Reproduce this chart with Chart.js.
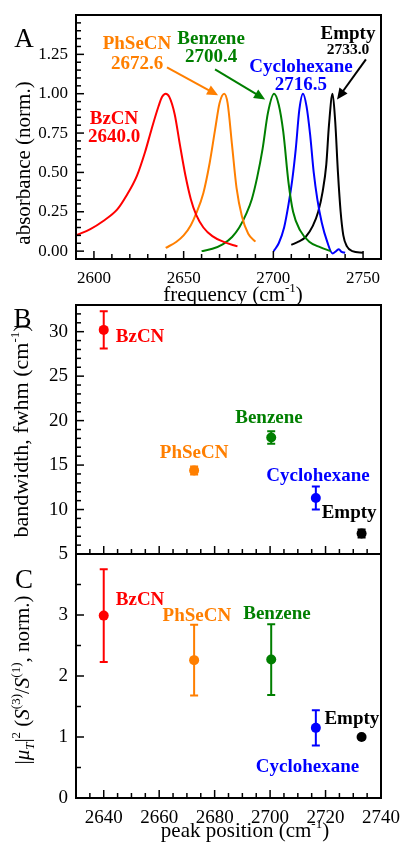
<!DOCTYPE html>
<html>
<head>
<meta charset="utf-8">
<script src="https://cdn.jsdelivr.net/npm/chart.js@4.4.0/dist/chart.umd.min.js"></script>
<style>
  html, body { margin: 0; padding: 0; background: #fff; }
  #wrap { position: relative; width: 403px; height: 853px; }
  .panel { position: absolute; left: 0; width: 403px; }
  canvas { display: block; }
</style>
</head>
<body>
<div id="wrap">
  <div class="panel" style="top:0px"><canvas id="chartA" width="403" height="310"></canvas></div>
  <div class="panel" style="top:295px"><canvas id="chartB" width="403" height="270"></canvas></div>
  <div class="panel" style="top:544px"><canvas id="chartC" width="403" height="309"></canvas></div>
</div>
<script>
// ---- data ----
const solvents = ['BzCN', 'PhSeCN', 'Benzene', 'Cyclohexane', 'Empty'];
const colors = ['#ff0000', '#ff7f00', '#007f00', '#0000ff', '#000000'];
const peakPos = [2640.0, 2672.6, 2700.4, 2716.5, 2733.0];
const fwhm = [30.2, 14.4, 18.1, 11.3, 7.3];
const fwhmErr = [2.1, 0.45, 0.7, 1.3, 0.45];
const ratio = [2.99, 2.26, 2.27, 1.15, 1.0];
const ratioErr = [0.76, 0.58, 0.58, 0.29, 0];

// spectra (panel A)
const bzcnFreq = [2590, 2598, 2605, 2613, 2618, 2624, 2628.5, 2632, 2636, 2638, 2640, 2642, 2645, 2648, 2651, 2654, 2657, 2661, 2666, 2672, 2680];
const bzcnAbs  = [0.10, 0.14, 0.19, 0.265, 0.35, 0.48, 0.63, 0.77, 0.92, 0.98, 1.0, 0.98, 0.87, 0.67, 0.48, 0.33, 0.23, 0.15, 0.095, 0.06, 0.03];
const phsecnFreq = [2640, 2646, 2650, 2654, 2657, 2661, 2664.5, 2667.5, 2670, 2672.6, 2674.5, 2677, 2679.5, 2682.5, 2686, 2690];
const phsecnAbs  = [0.02, 0.06, 0.1, 0.165, 0.24, 0.37, 0.56, 0.77, 0.94, 1.0, 0.94, 0.67, 0.40, 0.22, 0.11, 0.06];
const benzFreq = [2660, 2666, 2672, 2677, 2681, 2685, 2688, 2691, 2694, 2697, 2700.4, 2703, 2705.5, 2708.5, 2711, 2715, 2720, 2726, 2732];
const benzAbs  = [0.0, 0.015, 0.045, 0.09, 0.15, 0.24, 0.33, 0.47, 0.65, 0.88, 1.0, 0.93, 0.76, 0.43, 0.25, 0.13, 0.06, 0.025, 0.0];
const cyhexFreq = [2700.2, 2703, 2706, 2708.5, 2710.5, 2712.5, 2714.5, 2716.5, 2718.5, 2720.5, 2722.5, 2724.5, 2727, 2730, 2733, 2735, 2736.5, 2738, 2740];
const cyhexAbs  = [0.0, 0.05, 0.15, 0.3, 0.45, 0.65, 0.9, 1.0, 0.92, 0.74, 0.5, 0.33, 0.18, 0.06, -0.015, 0.0, 0.012, -0.005, -0.01];
const emptyFreq = [2710, 2714, 2718, 2722, 2725, 2727.5, 2729.5, 2731, 2733, 2734.5, 2736, 2737.5, 2739, 2741, 2744, 2750];
const emptyAbs  = [0.04, 0.06, 0.09, 0.16, 0.25, 0.38, 0.55, 0.8, 1.0, 0.82, 0.5, 0.25, 0.1, 0.03, 0.0, -0.01];

// tick labels
const xTicksA = [2600, 2650, 2700, 2750];
const yTicksA = [0, 0.25, 0.5, 0.75, 1.0, 1.25];
const yTicksB = [5, 10, 15, 20, 25, 30];
const xTicksBC = [2640, 2660, 2680, 2700, 2720, 2740];
const yTicksC = [0, 1, 2, 3];

// ---- helpers ----
const FONT = '"Liberation Serif", "Times New Roman", serif';
const reg = s => `${s}px ${FONT}`;
const ital = s => `italic ${s}px ${FONT}`;
const bold = s => `bold ${s}px ${FONT}`;
const pts = (xs, ys) => xs.map((x, i) => ({ x: x, y: ys[i] }));

function drawRich(ctx, pieces, x, y, rot) {
  ctx.save();
  ctx.translate(x, y);
  ctx.rotate(rot || 0);
  ctx.textBaseline = 'alphabetic';
  ctx.textAlign = 'left';
  ctx.fillStyle = '#000';
  let w = 0;
  pieces.forEach(p => { ctx.font = p.font; w += ctx.measureText(p.t).width; });
  let cx = -w / 2;
  pieces.forEach(p => {
    ctx.font = p.font;
    ctx.fillText(p.t, cx, p.dy || 0);
    cx += ctx.measureText(p.t).width;
  });
  ctx.restore();
}

const framePlugin = {
  id: 'frame',
  afterDraw(chart) {
    const { ctx, chartArea: a } = chart;
    ctx.save();
    ctx.strokeStyle = '#000';
    ctx.lineWidth = 2;
    ctx.strokeRect(a.left, a.top, a.right - a.left, a.bottom - a.top);
    ctx.restore();
  }
};

// ticks pointing into the plot
const innerTicks = {
  id: 'innerTicks',
  afterDraw(chart, args, opts) {
    const { ctx, chartArea: a } = chart;
    ctx.save();
    ctx.strokeStyle = '#000';
    ctx.lineWidth = 1.5;
    (opts.axes || []).forEach(ax => {
      const s = chart.scales[ax.id];
      const n0 = Math.ceil(s.min / ax.minor - 1e-6), n1 = Math.floor(s.max / ax.minor + 1e-6);
      for (let n = n0; n <= n1; n++) {
        const v = n * ax.minor;
        const major = ax.major.some(m => Math.abs(m - v) < 1e-6);
        const len = major ? 8 : 5;
        const p = s.getPixelForValue(v);
        ctx.beginPath();
        if (s.isHorizontal()) {
          if (p <= a.left + 1 || p >= a.right - 1) continue;
          ctx.moveTo(p, a.bottom); ctx.lineTo(p, a.bottom - len);
        } else {
          if (p <= a.top + 1 || p >= a.bottom - 1) continue;
          ctx.moveTo(a.left, p); ctx.lineTo(a.left + len, p);
        }
        ctx.stroke();
      }
    });
    ctx.restore();
  }
};

const errorBars = {
  id: 'errorBars',
  beforeDatasetsDraw(chart) {
    const { ctx } = chart;
    const ys = chart.scales.y;
    chart.data.datasets.forEach((ds, i) => {
      if (!ds.errors) return;
      const meta = chart.getDatasetMeta(i);
      ds.data.forEach((pt, j) => {
        const e = ds.errors[j];
        if (!e) return;
        const x = meta.data[j].x;
        const yTop = ys.getPixelForValue(pt.y + e), yBot = ys.getPixelForValue(pt.y - e);
        ctx.save();
        ctx.strokeStyle = ds.pointBackgroundColor[j];
        ctx.lineWidth = 2;
        ctx.beginPath();
        ctx.moveTo(x, yTop); ctx.lineTo(x, yBot);
        ctx.moveTo(x - 4, yTop); ctx.lineTo(x + 4, yTop);
        ctx.moveTo(x - 4, yBot); ctx.lineTo(x + 4, yBot);
        ctx.stroke();
        ctx.restore();
      });
    });
  }
};

// text labels and arrows placed in data coordinates
const notes = {
  id: 'notes',
  afterDatasetsDraw(chart, args, opts) {
    const { ctx, scales: { x, y } } = chart;
    ctx.save();
    (opts.items || []).forEach(it => {
      const px = x.getPixelForValue(it.x), py = y.getPixelForValue(it.y);
      ctx.fillStyle = it.color;
      ctx.textAlign = 'center';
      ctx.textBaseline = 'alphabetic';
      it.lines.forEach((ln, k) => {
        ctx.font = bold(it.sizes ? it.sizes[k] : 19);
        ctx.fillText(ln, px, py + k * (it.gap || 19));
      });
    });
    (opts.arrows || []).forEach(ar => {
      const x0 = x.getPixelForValue(ar.from[0]), y0 = y.getPixelForValue(ar.from[1]);
      const x1 = x.getPixelForValue(ar.to[0]), y1 = y.getPixelForValue(ar.to[1]);
      const ang = Math.atan2(y1 - y0, x1 - x0);
      const hl = 11, hw = 5;
      ctx.strokeStyle = ar.color; ctx.fillStyle = ar.color; ctx.lineWidth = 2;
      ctx.beginPath();
      ctx.moveTo(x0, y0);
      ctx.lineTo(x1 - hl * 0.8 * Math.cos(ang), y1 - hl * 0.8 * Math.sin(ang));
      ctx.stroke();
      ctx.beginPath();
      ctx.moveTo(x1, y1);
      ctx.lineTo(x1 - hl * Math.cos(ang) + hw * Math.sin(ang), y1 - hl * Math.sin(ang) - hw * Math.cos(ang));
      ctx.lineTo(x1 - hl * Math.cos(ang) - hw * Math.sin(ang), y1 - hl * Math.sin(ang) + hw * Math.cos(ang));
      ctx.closePath();
      ctx.fill();
    });
    ctx.restore();
  }
};

const titles = {
  id: 'titles',
  afterDraw(chart, args, opts) {
    (opts.items || []).forEach(t => drawRich(chart.ctx, t.pieces, t.x, t.y, t.rot));
  }
};

Chart.register(framePlugin, innerTicks, errorBars, notes, titles);

const tickFont = s => ({ family: FONT, size: s });
const fixTicks = arr => (scale => { scale.ticks = arr.map(v => ({ value: v })); });
// fixed axis size, and no extra edge padding from the tick labels
const fixSize = (dim, val) => (s => {
  if (val !== undefined) s[dim] = val;
  s.paddingTop = 0; s.paddingBottom = 0; s.paddingLeft = 0; s.paddingRight = 0;
});

const cmTitle = (text, size) => [
  { t: text + ' (cm', font: reg(size) },
  { t: '-1', font: reg(13), dy: -9 },
  { t: ')', font: reg(size) }
];

// ---- panel A: spectra ----
const spectra = [
  [bzcnFreq, bzcnAbs], [phsecnFreq, phsecnAbs], [benzFreq, benzAbs], [cyhexFreq, cyhexAbs], [emptyFreq, emptyAbs]
];

new Chart(document.getElementById('chartA'), {
  type: 'scatter',
  data: {
    datasets: spectra.map((s, i) => ({
      label: solvents[i],
      data: pts(s[0], s[1]),
      showLine: true,
      borderColor: colors[i],
      borderWidth: 2,
      pointRadius: 0,
      cubicInterpolationMode: 'monotone',
      fill: false
    }))
  },
  options: {
    responsive: false,
    animation: false,
    layout: { padding: { left: 0, right: 22, top: 15, bottom: 0 } },
    scales: {
      x: {
        type: 'linear', min: 2590, max: 2760,
        grid: { display: false, drawTicks: false }, border: { display: false },
        afterBuildTicks: fixTicks(xTicksA),
        afterFit: fixSize('height', 51),
        ticks: { font: tickFont(17), color: '#000', padding: 9, maxRotation: 0, autoSkip: false, callback: v => String(v) }
      },
      y: {
        type: 'linear', min: -0.05, max: 1.5,
        grid: { display: false, drawTicks: false }, border: { display: false },
        afterBuildTicks: fixTicks(yTicksA),
        afterFit: fixSize('width', 76),
        ticks: { font: tickFont(17), color: '#000', padding: 8, callback: v => v.toFixed(2) }
      }
    },
    plugins: {
      legend: { display: false },
      tooltip: { enabled: false },
      innerTicks: { axes: [{ id: 'x', major: xTicksA, minor: 10 }, { id: 'y', major: yTicksA, minor: 0.05 }] },
      notes: {
        items: [
          { lines: [solvents[0], peakPos[0].toFixed(1)], x: 2611.2, y: 0.806, color: colors[0], gap: 18 },
          { lines: [solvents[1], peakPos[1].toFixed(1)], x: 2624.0, y: 1.282, color: colors[1], gap: 20 },
          { lines: [solvents[2], peakPos[2].toFixed(1)], x: 2665.3, y: 1.313, color: colors[2], gap: 18 },
          { lines: [solvents[3], peakPos[3].toFixed(1)], x: 2715.4, y: 1.136, color: colors[3], gap: 18 },
          { lines: [solvents[4], peakPos[4].toFixed(1)], x: 2741.6, y: 1.345, color: colors[4], gap: 15, sizes: [19, 15.5] }
        ],
        arrows: [
          { from: [2640.7, 1.168], to: [2669.2, 0.99], color: colors[1] },
          { from: [2667.5, 1.155], to: [2695.4, 0.964], color: colors[2] },
          { from: [2751.6, 1.218], to: [2735.5, 0.964], color: colors[4] }
        ]
      },
      titles: {
        items: [
          { pieces: [{ t: 'A', font: reg(27) }], x: 24, y: 47 },
          { pieces: cmTitle('frequency', 21), x: 233, y: 301 },
          { pieces: [{ t: 'absorbance (norm.)', font: reg(21) }], x: 30, y: 163, rot: -Math.PI / 2 }
        ]
      }
    }
  }
});

// ---- panels B and C: scatter with error bars ----
function pointChart(id, values, errs, yMin, yMax, yTicks, yMinor, opts) {
  return new Chart(document.getElementById(id), {
    type: 'scatter',
    data: {
      datasets: [{
        data: pts(peakPos, values),
        errors: errs,
        pointRadius: 5,
        pointHoverRadius: 5,
        pointBorderWidth: 0,
        pointBackgroundColor: colors,
        pointBorderColor: colors
      }]
    },
    options: {
      responsive: false,
      animation: false,
      layout: { padding: opts.padding },
      scales: {
        x: {
          type: 'linear', min: 2630, max: 2740, display: opts.showX,
          grid: { display: false, drawTicks: false }, border: { display: false },
          afterBuildTicks: fixTicks(xTicksBC),
          afterFit: fixSize('height', opts.showX ? opts.xHeight : undefined),
          ticks: { font: tickFont(19), color: '#000', padding: 9, maxRotation: 0, autoSkip: false, callback: v => String(v) }
        },
        y: {
          type: 'linear', min: yMin, max: yMax,
          grid: { display: false, drawTicks: false }, border: { display: false },
          afterBuildTicks: fixTicks(yTicks),
          afterFit: fixSize('width', 76),
          ticks: { font: tickFont(19), color: '#000', padding: 8 }
        }
      },
      plugins: {
        legend: { display: false },
        tooltip: { enabled: false },
        innerTicks: { axes: [{ id: 'x', major: xTicksBC, minor: 5 }, { id: 'y', major: yTicks, minor: yMinor }] },
        notes: { items: opts.labels },
        titles: { items: opts.titles }
      }
    }
  });
}

pointChart('chartB', fwhm, fwhmErr, 5, 33, yTicksB, 1, {
  padding: { left: 0, right: 22, top: 10, bottom: 11 },
  showX: false,
  labels: [
    { lines: [solvents[0]], x: 2653.1, y: 28.8, color: colors[0] },
    { lines: [solvents[1]], x: 2672.6, y: 15.8, color: colors[1] },
    { lines: [solvents[2]], x: 2699.6, y: 19.7, color: colors[2] },
    { lines: [solvents[3]], x: 2717.3, y: 13.2, color: colors[3] },
    { lines: [solvents[4]], x: 2728.5, y: 9.1, color: colors[4] }
  ],
  titles: [
    { pieces: [{ t: 'B', font: reg(27) }], x: 22.5, y: 32 },
    { pieces: cmTitle('bandwidth, fwhm', 22), x: 28, y: 136, rot: -Math.PI / 2 }
  ]
});

pointChart('chartC', ratio, ratioErr, 0, 4, yTicksC, 0.5, {
  padding: { left: 0, right: 22, top: 10, bottom: 0 },
  showX: true,
  xHeight: 55,
  labels: [
    { lines: [solvents[0]], x: 2653.1, y: 3.16, color: colors[0] },
    { lines: [solvents[1]], x: 2673.6, y: 2.90, color: colors[1] },
    { lines: [solvents[2]], x: 2702.5, y: 2.94, color: colors[2] },
    { lines: [solvents[3]], x: 2713.5, y: 0.43, color: colors[3] },
    { lines: [solvents[4]], x: 2729.5, y: 1.22, color: colors[4] }
  ],
  titles: [
    { pieces: [{ t: 'C', font: reg(27) }], x: 24, y: 44 },
    { pieces: cmTitle('peak position', 21), x: 245, y: 293 },
    {
      pieces: [
        { t: '|', font: reg(21) },
        { t: 'μ', font: ital(21) },
        { t: 'T', font: ital(13), dy: 5 },
        { t: '|', font: reg(21) },
        { t: '2', font: reg(13), dy: -9 },
        { t: ' (', font: reg(21) },
        { t: 'S', font: ital(21) },
        { t: '(3)', font: reg(13), dy: -9 },
        { t: '/', font: reg(21) },
        { t: 'S', font: ital(21) },
        { t: '(1)', font: reg(13), dy: -9 },
        { t: ', norm.)', font: reg(21) }
      ],
      x: 29, y: 136, rot: -Math.PI / 2
    }
  ]
});
</script>
</body>
</html>
